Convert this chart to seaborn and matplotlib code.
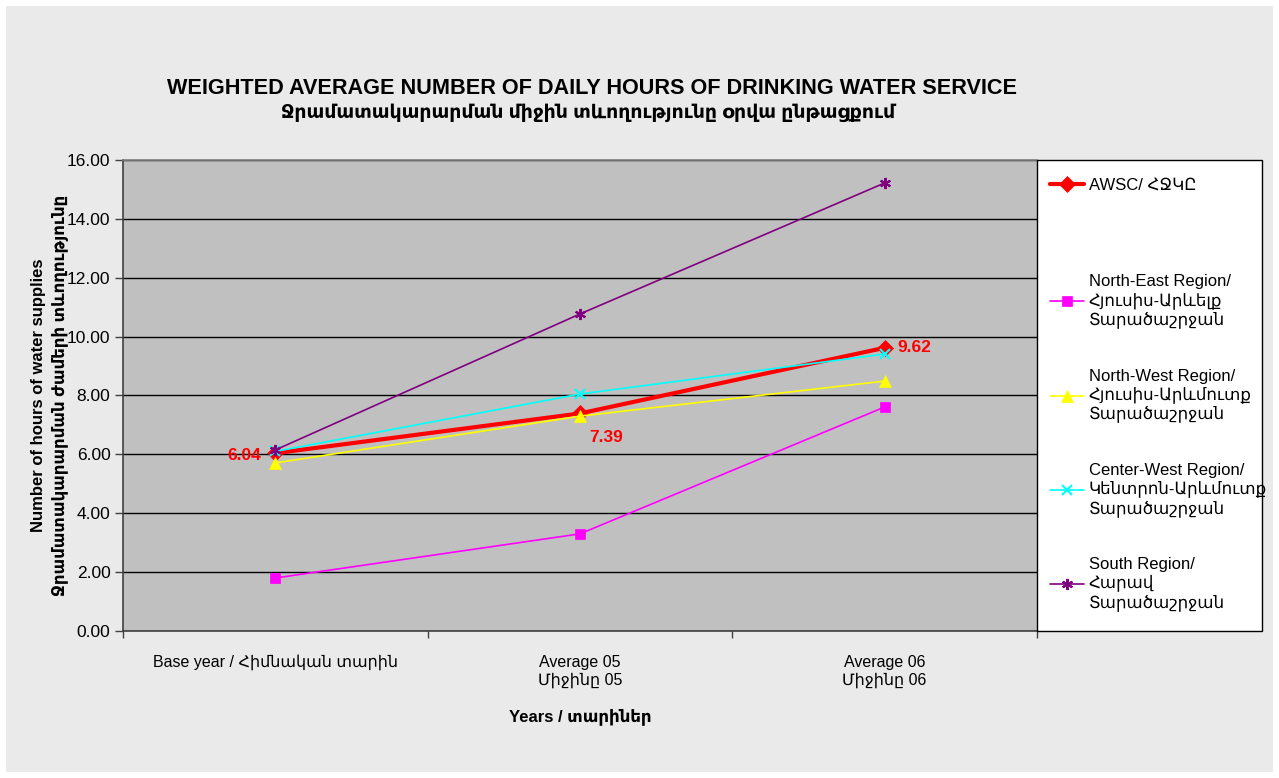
import numpy as np
import pandas as pd
import matplotlib.pyplot as plt
import matplotlib.patches as patches
from matplotlib.lines import Line2D
import seaborn as sns

# Data
categories = ["Base year / Հիմնական տարին", "Average 05\nՄիջինը 05", "Average 06\nՄիջինը 06"]
awsc = [6.04, 7.39, 9.62]
north_east = [1.80, 3.30, 7.61]
north_west = [5.71, 7.30, 8.49]
center_west = [6.10, 8.05, 9.41]
south = [6.15, 10.77, 15.22]

series_names = ["AWSC/ ՀՋԿԸ",
                "North-East Region/\nՀյուսիս-Արևելք\nՏարածաշրջան",
                "North-West Region/\nՀյուսիս-Արևմուտք\nՏարածաշրջան",
                "Center-West Region/\nԿենտրոն-Արևմուտք\nՏարածաշրջան",
                "South Region/\nՀարավ\nՏարածաշրջան"]
series_values = [awsc, north_east, north_west, center_west, south]
colors = ["#FF0000", "#FF00FF", "#FFFF00", "#00FFFF", "#800080"]
markers = ["D", "s", "^", "x", (6, 2, 0)]
marker_sizes = [8, 7, 8, 7, 8]
line_widths = [3.0, 1.2, 1.2, 1.2, 1.2]

# Long form table
rows = []
for name, vals in zip(series_names, series_values):
    for i, v in enumerate(vals):
        rows.append({"series": name, "pos": i, "value": v})
df = pd.DataFrame(rows)

sns.set_theme(style="white")
plt.rcParams["font.family"] = ["Liberation Sans", "DejaVu Sans"]
plt.rcParams["text.color"] = "black"
plt.rcParams["axes.labelcolor"] = "black"
plt.rcParams["xtick.color"] = "black"
plt.rcParams["ytick.color"] = "black"

fig = plt.figure(figsize=(12.79, 7.78), dpi=100)
fig.patch.set_facecolor("white")
fig.patches.append(patches.Rectangle((6/1279, 6/778), 1267/1279, 766/778,
                                     transform=fig.transFigure, facecolor="#eaeaea",
                                     edgecolor="none", zorder=-10))

ax = fig.add_axes([123/1279, 147/778, 914/1279, 471/778])
ax.set_facecolor("#c0c0c0")

handles = []
for name, col, mk, ms, lw in zip(series_names, colors, markers, marker_sizes, line_widths):
    sub = df[df.series == name]
    mew = 1.5 if mk in ("x", (6, 2, 0)) else 0.5
    sns.lineplot(data=sub, x="pos", y="value", ax=ax, color=col, marker=mk,
                 markersize=ms, linewidth=lw, markeredgecolor=col,
                 markeredgewidth=mew, legend=False)
    handles.append(Line2D([0], [0], color=col, marker=mk, markersize=ms, linewidth=lw,
                          markeredgecolor=col, markeredgewidth=mew))

ax.set_xlim(-0.5, 2.5)
ax.set_ylim(0, 16)
ax.set_yticks(np.arange(0, 16.01, 2))
ax.set_yticklabels([f"{v:.2f}" for v in np.arange(0, 16.01, 2)], fontsize=12.5)
ax.yaxis.grid(True, color="black", linewidth=1)
ax.set_axisbelow(True)
ax.tick_params(axis="y", which="major", direction="out", length=6, width=1,
               color="#404040", left=True, pad=3)

ax.set_xticks([0, 1, 2])
ax.set_xticklabels(categories, fontsize=11.5, linespacing=1.2)
ax.set_xticks([-0.5, 0.5, 1.5, 2.5], minor=True)
ax.tick_params(axis="x", which="major", length=0, pad=17)
ax.tick_params(axis="x", which="minor", direction="out", length=5, width=1,
               color="#404040", bottom=True)

for side in ["left", "bottom"]:
    ax.spines[side].set_color("#404040")
    ax.spines[side].set_linewidth(1.2)
ax.spines["top"].set_color("#808080")
ax.spines["right"].set_visible(False)

ax.set_xlabel("Years / տարիներ", fontsize=12, fontweight="bold", labelpad=15)
ax.set_ylabel("Number of hours of water supplies\nՋրամատակարարման ժամերի տևողությունը",
              fontsize=12, fontweight="bold", labelpad=-1, linespacing=1.4)

# Data labels on AWSC
ax.annotate(f"{awsc[0]:.2f}", (0, awsc[0]), xytext=(-14, -2), textcoords="offset pixels",
            ha="right", va="center", color="#FF0000", fontsize=12.5, fontweight="bold")
ax.annotate(f"{awsc[1]:.2f}", (1, awsc[1]), xytext=(26, -24), textcoords="offset pixels",
            ha="center", va="center", color="#FF0000", fontsize=12.5, fontweight="bold")
ax.annotate(f"{awsc[2]:.2f}", (2, awsc[2]), xytext=(13, 0), textcoords="offset pixels",
            ha="left", va="center", color="#FF0000", fontsize=12.5, fontweight="bold")

# Titles
fig.text(592/1279, 1 - 89/778, "WEIGHTED AVERAGE NUMBER OF DAILY HOURS OF DRINKING WATER SERVICE",
         ha="center", va="center", fontsize=15.6, fontweight="bold")
fig.text(588/1279, 1 - 113/778, "Ջրամատակարարման միջին տևողությունը օրվա ընթացքում",
         ha="center", va="center", fontsize=13.6, fontweight="bold")

# Legend box
fig.patches.append(patches.Rectangle((1037/1279, 147/778), 225/1279, 471/778,
                                     transform=fig.transFigure, facecolor="white",
                                     edgecolor="black", linewidth=1, zorder=1))
leg1 = fig.legend(handles[:1], series_names[:1], loc="center left",
                  bbox_to_anchor=(1042/1279, 1 - 185/778), frameon=False, fontsize=12,
                  borderpad=0, handlelength=2.0, handletextpad=0.3)
leg2 = fig.legend(handles[1:], series_names[1:], loc="upper left",
                  bbox_to_anchor=(1042/1279, 1 - 266/778), frameon=False, fontsize=12,
                  borderpad=0, handlelength=2.0, handletextpad=0.3, labelspacing=2.42)
for t in leg2.get_texts():
    t.set_linespacing(1.2)

fig.savefig("out.png", dpi=100, facecolor=fig.get_facecolor())
